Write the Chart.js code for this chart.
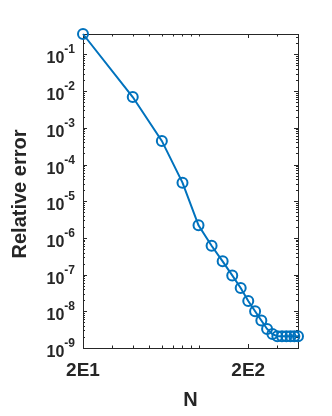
<!DOCTYPE html>
<html>
<head>
<meta charset="utf-8">
<script src="https://cdn.jsdelivr.net/npm/chart.js@4"></script>
<style>
    html, body { margin: 0; padding: 0; background: #ffffff; }
    #wrap { width: 332px; height: 416px; }
</style>
</head>
<body>
<div id="wrap"><canvas id="chart" width="332" height="416"></canvas></div>
<script>
// N values and the relative error
const nValues = [20, 40, 60, 80, 100, 120, 140, 160, 180, 200, 220, 240, 260, 280, 300, 320, 340, 360, 380, 400]
const errValues = [0.36, 6.9e-3, 4.4e-4, 3.2e-5, 2.2e-6, 6.1e-7, 2.3e-7, 9.5e-8, 4.3e-8, 1.9e-8,
    1.0e-8, 5.6e-9, 3.3e-9, 2.4e-9, 2.1e-9, 2.1e-9, 2.1e-9, 2.1e-9, 2.1e-9, 2.1e-9]
const xTickValues = [20, 200]
const xTickLabels = ['2E1', '2E2']
const yTickExponents = [-1, -2, -3, -4, -5, -6, -7, -8, -9]
const xLabel = 'N'
const yLabel = 'Relative error'

const lineColor = '#0072BD'
const axisColor = '#262626'

const frame = {
    id: 'matlabFrame',
    beforeDatasetsDraw(chart) {
        const {ctx, chartArea: a} = chart
        const xs = chart.scales.x
        const ys = chart.scales.y
        ctx.save()
        ctx.strokeStyle = axisColor
        ctx.lineWidth = 1
        ctx.strokeRect(Math.round(a.left) + 0.5, Math.round(a.top) + 0.5,
            Math.round(a.right - a.left), Math.round(a.bottom - a.top))
        ctx.beginPath()
        // x ticks (inward, bottom and top)
        for (let d = 10; d <= 100; d *= 10) {
            for (let m = 1; m <= 9; m++) {
                const v = m * d
                if (v < xs.min || v > xs.max) continue
                const px = Math.round(xs.getPixelForValue(v)) + 0.5
                const len = xTickValues.includes(v) ? 4 : 2.5
                ctx.moveTo(px, a.bottom); ctx.lineTo(px, a.bottom - len)
                ctx.moveTo(px, a.top); ctx.lineTo(px, a.top + len)
            }
        }
        // y ticks (inward, left and right)
        for (let e = -9; e <= -1; e++) {
            for (let m = 1; m <= 9; m++) {
                const v = m * Math.pow(10, e)
                if (v < ys.min * 0.999 || v > ys.max) continue
                const py = Math.round(ys.getPixelForValue(v)) + 0.5
                const len = m === 1 ? 4 : 2
                ctx.moveTo(a.left, py); ctx.lineTo(a.left + len, py)
                ctx.moveTo(a.right, py); ctx.lineTo(a.right - len, py)
            }
        }
        ctx.stroke()

        ctx.fillStyle = axisColor
        // x tick labels
        ctx.font = 'bold 19px "Liberation Sans", Arial, sans-serif'
        ctx.textAlign = 'center'
        ctx.textBaseline = 'middle'
        xTickValues.forEach((v, i) => {
            ctx.fillText(xTickLabels[i], xs.getPixelForValue(v), a.bottom + 23)
        })
        // y tick labels: 10 with superscript exponent
        yTickExponents.forEach(e => {
            const py = ys.getPixelForValue(Math.pow(10, e))
            const exp = '-' + Math.abs(e)
            ctx.font = 'bold 12px "Liberation Sans", Arial, sans-serif'
            const expW = ctx.measureText(exp).width
            const right = a.left - 8
            ctx.textAlign = 'left'
            ctx.textBaseline = 'alphabetic'
            ctx.fillText(exp, right - expW, py - 1)
            ctx.font = 'bold 16px "Liberation Sans", Arial, sans-serif'
            ctx.textAlign = 'right'
            ctx.fillText('10', right - expW, py + 9)
        })
        // axis titles
        ctx.font = 'bold 20px "Liberation Sans", Arial, sans-serif'
        ctx.textAlign = 'center'
        ctx.textBaseline = 'middle'
        ctx.fillText(xLabel, (a.left + a.right) / 2, a.bottom + 52)
        ctx.save()
        ctx.translate(20, (a.top + a.bottom) / 2 + 3)
        ctx.rotate(-Math.PI / 2)
        ctx.fillText(yLabel, 0, 0)
        ctx.restore()
        ctx.restore()
    }
}

const chart = new Chart(document.getElementById('chart'), {
    type: 'scatter',
    data: {
        datasets: [{
            data: nValues.map((n, i) => ({x: n, y: errValues[i]})),
            showLine: true,
            borderColor: lineColor,
            borderWidth: 2,
            pointStyle: 'circle',
            pointRadius: 5,
            pointBorderWidth: 2,
            pointBorderColor: lineColor,
            pointBackgroundColor: 'rgba(0,0,0,0)',
            clip: false,
        }]
    },
    options: {
        responsive: false,
        animation: false,
        events: [],
        layout: {
            padding: {left: 83, top: 34, right: 34, bottom: 68}
        },
        scales: {
            x: {type: 'logarithmic', min: 20, max: 400, display: false},
            y: {type: 'logarithmic', min: 1e-9, max: 0.36, display: false}
        },
        plugins: {
            legend: {display: false},
            tooltip: {enabled: false}
        }
    },
    plugins: [frame]
})
</script>
</body>
</html>
